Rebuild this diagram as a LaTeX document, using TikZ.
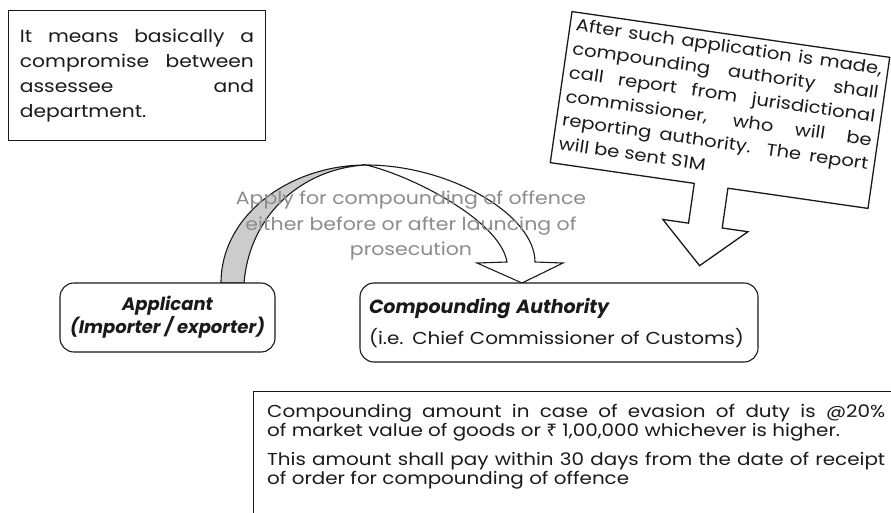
\documentclass[tikz,border=0pt]{standalone}
\usepackage{fontspec}
\setmainfont{Poppins}[FakeStretch=1.15]
\newfontfamily\partyfont{Poppins}
\newfontfamily\rupeefont{Noto Sans}[FakeStretch=1.1]
\usetikzlibrary{calc,positioning}
\definecolor{LabelGray}{HTML}{8C8C8C}
\definecolor{BandGray}{HTML}{CCCCCC}
\definecolor{InkBlack}{HTML}{1A1A1A}
\hyphenpenalty=10000
\exhyphenpenalty=10000

\begin{document}
\begin{tikzpicture}[x=1pt,y=-1pt,
        note/.style={draw=InkBlack,line width=0.9pt,fill=white,align=justify,
          inner xsep=11.5pt,inner ysep=8pt,text=InkBlack},
        party/.style={draw=InkBlack,line width=1.1pt,rounded corners=14pt,fill=white,
          text=InkBlack},
        ribbon/.style={draw=InkBlack,line width=1.1pt},
        callout/.style={draw=InkBlack,line width=1.3pt,fill=white}
      ]
        \clip (0,0) rectangle (891,513);
        \fill[white] (0,0) rectangle (891,513);
        % curved arrow from applicant to authority
        \filldraw[ribbon,fill=BandGray] (221,283)
          .. controls (221,215) and (290,165) .. (366,165)
          .. controls (305,168) and (250,212) .. (244,283) -- cycle;
        \filldraw[ribbon,fill=white] (366,165)
          .. controls (450,165) and (535,215) .. (535,262)
          -- (563,263) -- (522,283) -- (477,263) -- (507,262)
          .. controls (500,220) and (410,175) .. (366,165) -- cycle;
        \node[text=LabelGray,align=center,font=\fontsize{17.8}{25.5}\selectfont]
          (apply) at (411,226)
          {Apply for compounding of offence\\either before or after launcing of\\prosecution};
        % meaning note
        \node[note,anchor=north west,text width=234pt,minimum height=130pt,
          font=\fontsize{17.6}{25}\selectfont] (meaning) at (8,10)
          {It means basically a\linebreak compromise between\linebreak
           assessee and\linebreak department.};
        % parties
        \node[party,minimum width=215pt,minimum height=69pt,align=center,
          font=\fontsize{18}{23}\selectfont\partyfont\bfseries\itshape] (applicant) at (167.5,317.5)
          {Applicant\\(Importer / exporter)};
        \node[party,minimum width=398pt,minimum height=79pt,text width=380pt,
          align=left,font=\fontsize{17.3}{24}\selectfont] (authority) at (559,322.5)
          {{\fontsize{19}{24}\selectfont\partyfont\bfseries\itshape Compounding Authority}\\[7pt](i.e. Chief Commissioner of Customs)};
        % report callout
        \begin{scope}[shift={(720,110)},rotate=-8.2,transform shape]
          \draw[callout] (-160.5,-76.3) -- (160.5,-76.3) -- (160.5,76.3)
            -- (19,76.3) -- (19,116.5) -- (45,116.5) -- (2,157)
            -- (-41,116.5) -- (-15,116.5) -- (-15,76.3) -- (-160.5,76.3) -- cycle;
          \node[anchor=north,text width=309pt,inner sep=0pt,align=justify,
            text=InkBlack,font=\fontsize{17}{24}\selectfont] (report) at (0,-71)
            {After such application is made,\linebreak compounding authority shall\linebreak
             call report from jurisdictional\linebreak commissioner, who will be\linebreak
             reporting authority. The report\linebreak will be sent S1M};
        \end{scope}
        % amount note
        \node[anchor=north west,text width=618pt,inner sep=0pt,align=justify,
          text=InkBlack,font=\fontsize{17.3}{19}\selectfont] (amount) at (267,404)
          {Compounding amount in case of evasion of duty is @20\%\linebreak
           of market value of goods or {\rupeefont ₹}~1,00,000 whichever is higher.\\[10pt]
           This amount shall pay within 30 days from the date of receipt\linebreak
           of order for compounding of offence};
        \draw[draw=InkBlack,line width=0.9pt] ($(amount.north west)+(-14,-13)$)
          rectangle ++(660,150);
      \end{tikzpicture}
\end{document}
